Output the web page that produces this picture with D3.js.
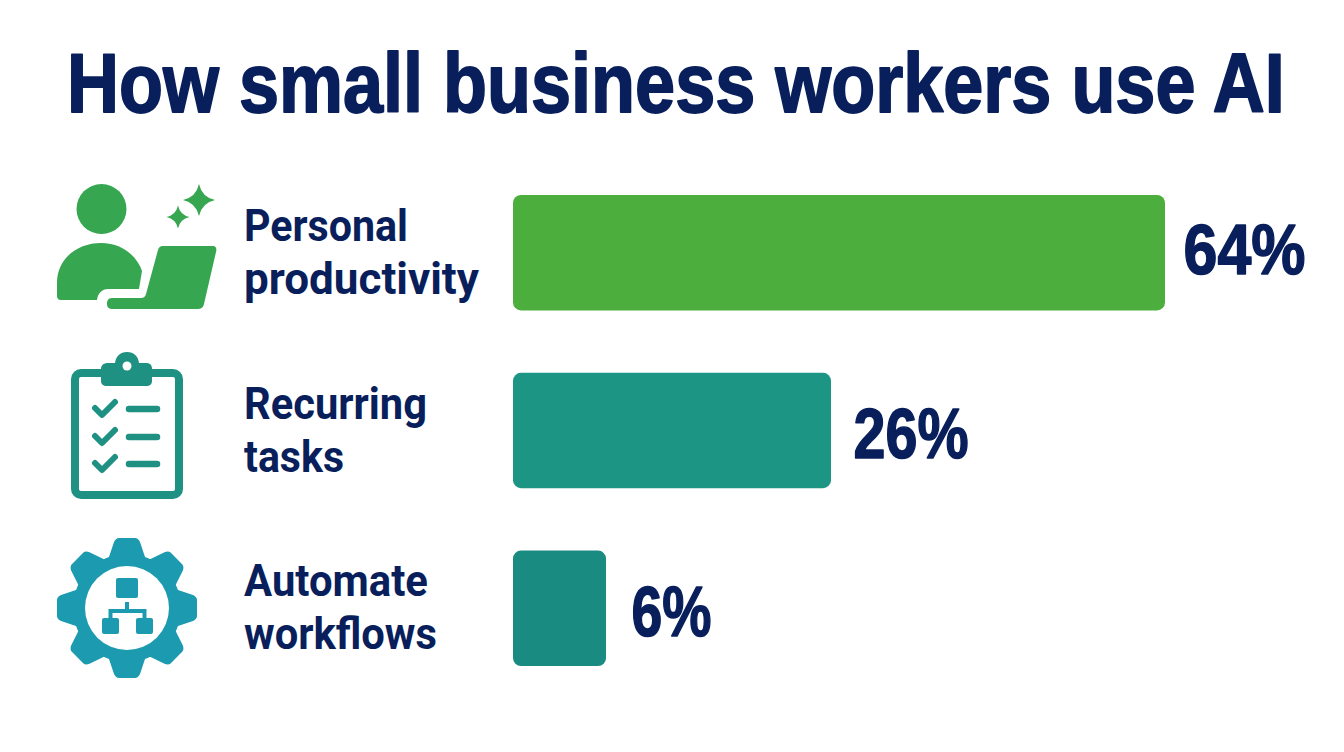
<!DOCTYPE html>
<html><head><meta charset="utf-8">
<script src="https://cdn.jsdelivr.net/npm/d3@7/dist/d3.min.js"></script>
<style>html,body{margin:0;background:#fff}svg{display:block}</style></head>
<body><svg id="c" width="1344" height="752"></svg>
<script>
const categories=[["Personal","productivity"],["Recurring","tasks"],["Automate","workflows"]];
const values=[64,26,6];
const valueLabels=["64%","26%","6%"];
const colors=["#4cae3c","#1c9585","#1a8b80"];
const titleText="How small business workers use AI";
// widths and offsets of the labels as placed in the picture
const labelWidths=[[164,235],[183,100],[184,193]];
const valueWidths=[122,115,80];
const valueGaps=[18.5,22.5,25.5];
const valueDrops=[21,27,28];
const navy="#081f5c",font="'Roboto','Inter',sans-serif",heavy="'Liberation Sans',Arial,sans-serif";
const svg=d3.select("#c");
// the bars in the reference are not proportional to their labels: piecewise scale
const x=d3.scaleLinear().domain([0,6,26,64]).range([513,606,831,1165]);
const y=d3.scaleBand().domain(d3.range(3)).range([195,666]).paddingInner(0.351).paddingOuter(0);
svg.append("rect").attr("width",1344).attr("height",752).attr("fill","#fff");
// horizontally squeezed text, fitted by measuring its natural length
function squeezed(sel,px,py,w){
 const len=sel.node().getComputedTextLength();
 sel.attr("transform",`translate(${px},${py}) scale(${w/len},1)`);
}
squeezed(svg.append("text").text(titleText)
 .attr("font-family",heavy).attr("font-weight",700).attr("font-size",83).attr("fill",navy)
 .attr("stroke",navy).attr("stroke-width",1.8).attr("stroke-linejoin","round"),67,111.5,1218);
svg.selectAll("rect.bar").data(values).join("rect").attr("class","bar")
 .attr("x",x(0)).attr("y",(d,i)=>y(i)).attr("width",d=>x(d)-x(0)).attr("height",y.bandwidth())
 .attr("rx",8).attr("fill",(d,i)=>colors[i]);
values.forEach((d,i)=>{
 squeezed(svg.append("text").attr("class","val").text(valueLabels[i])
  .attr("font-family",heavy).attr("font-weight",700).attr("font-size",70).attr("fill",navy)
  .attr("stroke",navy).attr("stroke-width",1.5).attr("stroke-linejoin","round"),
  x(d)+valueGaps[i],y(i)+y.bandwidth()/2+valueDrops[i],valueWidths[i]);
});
categories.forEach((c,i)=>{c.forEach((t,j)=>{
 squeezed(svg.append("text").text(t)
  .attr("font-family",font).attr("font-weight",700).attr("font-size",45).attr("fill",navy),
  244,y(i)+y.bandwidth()/2+(j==0?-12:41),labelWidths[i][j]);
});});
// icon 1
const g1=svg.append("g").attr("fill","#37a651");
g1.append("circle").attr("cx",101.5).attr("cy",209).attr("r",25);
g1.append("path").attr("d","M57 296V283C57 258 78 243 101 243C122 243 137 256 142 271L139 289H108C102 289 98 293 97 300H61C58 300 57 298 57 296Z");
g1.append("path").attr("d","M163 246H213C216 246 217 249 216 252L204 304C203 308 201 309 197 309H112C108 309 107 306 107 304C107 301 108 298 112 298H140C144 298 145 297 146 294L158 250C159 247 160 246 163 246Z");
const star=(cx,cy,r)=>`M${cx} ${cy-r}Q${cx+r*.18} ${cy-r*.18} ${cx+r} ${cy}Q${cx+r*.18} ${cy+r*.18} ${cx} ${cy+r}Q${cx-r*.18} ${cy+r*.18} ${cx-r} ${cy}Q${cx-r*.18} ${cy-r*.18} ${cx} ${cy-r}Z`;
g1.append("path").attr("d",star(199,200,16));g1.append("path").attr("d",star(178,217,11.5));
// icon 2
const g2=svg.append("g");const t="#1f9183";
g2.append("rect").attr("x",75).attr("y",373).attr("width",104).attr("height",122).attr("rx",6).attr("fill","none").attr("stroke",t).attr("stroke-width",8);
g2.append("path").attr("d","M101 381V369C101 365 104 363 108 363H115C116 356 120 352 127 352C134 352 138 356 139 363H146C150 363 152 365 152 369V381C152 384 150 386 146 386H107C103 386 101 384 101 381Z").attr("fill",t);
g2.append("circle").attr("cx",127).attr("cy",366).attr("r",4.5).attr("fill","#fff");
[408,436,463].forEach(yy=>{
 g2.append("path").attr("d",`M95 ${yy}l7 7l13 -13`).attr("fill","none").attr("stroke",t).attr("stroke-width",6).attr("stroke-linecap","round").attr("stroke-linejoin","round");
 g2.append("line").attr("x1",129).attr("x2",157).attr("y1",yy+1).attr("y2",yy+1).attr("stroke",t).attr("stroke-width",6.5).attr("stroke-linecap","round");
});
// icon 3
const g3=svg.append("g");const b="#1c9bb0";const cx=127,cy=608;
d3.range(8).forEach(k=>g3.append("path").attr("d",`M${cx-19} ${cy-48}L${cx-13} ${cy-66}Q${cx-11} ${cy-70} ${cx-8} ${cy-70}H${cx+8}Q${cx+11} ${cy-70} ${cx+13} ${cy-66}L${cx+19} ${cy-48}Z`).attr("fill",b).attr("transform",`rotate(${k*45} ${cx} ${cy})`));
g3.append("circle").attr("cx",cx).attr("cy",cy).attr("r",54).attr("fill",b);
g3.append("circle").attr("cx",cx).attr("cy",cy).attr("r",42).attr("fill","#fff");
g3.append("rect").attr("x",116).attr("y",578).attr("width",22).attr("height",20).attr("rx",2).attr("fill",b);
g3.append("rect").attr("x",102).attr("y",618).attr("width",17).attr("height",16).attr("rx",2).attr("fill",b);
g3.append("rect").attr("x",136).attr("y",618).attr("width",17).attr("height",16).attr("rx",2).attr("fill",b);
g3.append("path").attr("d",`M127 602V611M110.500 618V611H144.500V618`).attr("fill","none").attr("stroke",b).attr("stroke-width",4);
</script></body></html>
